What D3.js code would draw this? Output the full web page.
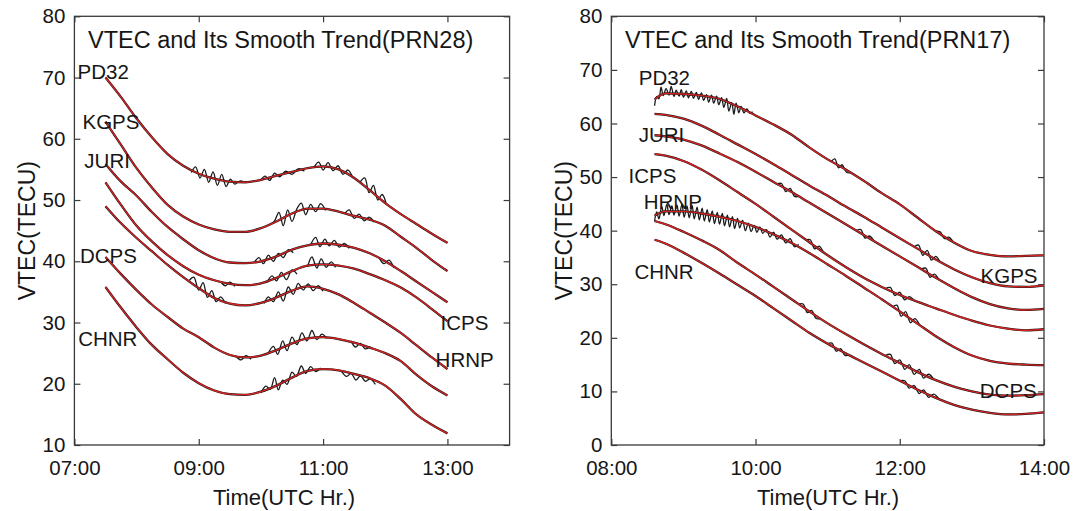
<!DOCTYPE html>
<html><head><meta charset="utf-8">
<script src="https://cdn.jsdelivr.net/npm/d3@7"></script>
<style>
body{margin:0;background:#fff}
svg{display:block}
text{font-family:"Liberation Sans",Arial,sans-serif;fill:#161616}
</style>
</head><body>
<svg id="c" width="1085" height="511"></svg>
<script>
// ---------------- LEFT PANEL (PRN28) ----------------
const leftTimes = [7.5,7.75,8,8.25,8.5,8.75,9,9.25,9.5,9.75,10,10.25,10.5,10.75,11,11.25,11.5,11.75,12,12.25,12.5,12.75,13];
const leftPD32 = [70.0,66.8,63.3,60.2,57.5,55.6,54.3,53.5,53.0,52.9,53.3,54.0,54.6,55.2,55.5,55.0,53.6,51.6,49.5,47.7,46.1,44.5,43.0];
const leftKGPS = [62.8,59.0,55.2,52.0,49.2,47.3,46.0,45.2,44.8,44.8,45.4,46.5,47.8,48.6,48.6,48.1,47.4,46.8,45.8,44.0,42.2,40.2,38.4];
const leftJURI = [55.9,53.0,50.7,48.0,45.6,43.6,41.8,40.5,39.8,39.7,40.0,40.8,41.9,42.6,42.9,42.7,42.2,41.3,40.0,38.4,36.7,35.0,33.3];
const leftICPS = [52.9,49.2,45.8,43.2,41.0,39.2,37.8,36.9,36.3,36.1,36.4,37.3,38.4,39.3,39.5,39.3,38.8,37.9,36.9,35.7,34.1,32.2,30.2];
const leftHRNP = [49.0,46.2,43.8,41.6,39.4,37.4,35.6,34.0,33.1,32.8,33.2,34.1,35.2,35.9,35.5,34.6,33.2,31.6,30.0,28.3,26.3,24.3,22.4];
const leftDCPS = [40.7,37.9,35.3,32.9,30.9,29.0,27.6,25.9,24.7,24.3,24.6,25.5,26.6,27.4,27.6,27.3,26.7,25.9,25.0,23.7,21.5,19.6,18.1];
const leftCHNR = [35.8,32.4,29.2,26.3,24.0,21.8,20.1,18.9,18.3,18.2,18.7,19.7,21.0,22.1,22.4,22.2,21.6,20.9,19.7,17.5,15.0,13.3,11.9];

// raw VTEC (black) where it departs from the trend: [time, value]
const leftPD32Raw = [
 [[8.88,54.5],[8.95,55.4],[9.02,53.6],[9.09,55.0],[9.16,52.9],[9.23,54.6],[9.3,52.4],[9.37,54.2],[9.44,52.2],[9.51,53.4],[9.58,52.6],[9.66,53.1],[9.74,52.9]],
 [[10.0,53.3],[10.07,53.9],[10.14,53.2],[10.22,54.4],[10.3,53.8],[10.4,54.7],[10.5,54.2],[10.6,55.1],[10.7,54.7]],
 [[10.85,55.3],[10.93,56.2],[11.0,54.9],[11.08,56.1],[11.16,54.8],[11.24,55.6],[11.32,54.2],[11.4,54.9],[11.48,53.6]],
 [[11.6,53.0],[11.67,53.6],[11.74,51.2],[11.81,52.4],[11.88,50.0],[11.95,50.9],[12.02,49.2]]];
const leftKGPSRaw = [
 [[10.15,46.0],[10.22,46.6],[10.29,48.0],[10.36,45.8],[10.43,48.4],[10.5,46.5],[10.58,48.6],[10.65,49.5],[10.72,47.6],[10.8,49.3],[10.88,48.1],[10.96,49.4],[11.04,48.3]],
 [[11.35,47.8],[11.42,48.4],[11.5,47.0],[11.58,47.7],[11.66,46.6],[11.74,47.2],[11.82,46.4]]];
const leftJURIRaw = [
 [[9.9,39.9],[9.97,40.6],[10.04,39.6],[10.12,41.0],[10.2,40.0],[10.28,41.3],[10.36,40.6],[10.44,41.9],[10.52,41.4]],
 [[10.8,42.7],[10.88,43.9],[10.95,42.4],[11.03,43.6],[11.1,42.5],[11.18,43.4],[11.26,42.3],[11.34,42.9],[11.42,42.1]],
 [[11.9,40.6],[11.98,39.6],[12.06,40.2],[12.14,38.9]]];
const leftICPSRaw = [
 [[9.35,36.7],[9.43,36.0],[9.5,36.6],[9.58,35.9]],
 [[10.1,36.6],[10.18,37.6],[10.25,36.8],[10.33,38.2],[10.41,37.0],[10.5,38.6],[10.58,37.9]],
 [[10.75,39.1],[10.82,40.7],[10.9,38.9],[10.97,40.4],[11.05,39.0],[11.13,39.9],[11.2,39.0]]];
const leftHRNPRaw = [
 [[8.85,36.9],[8.92,37.4],[9.0,35.3],[9.07,36.5],[9.14,34.1],[9.21,35.2],[9.28,33.4],[9.35,34.2],[9.43,33.1]],
 [[10.05,33.1],[10.12,34.2],[10.2,33.4],[10.28,35.0],[10.36,33.5],[10.44,35.8],[10.52,34.6],[10.6,36.4],[10.68,35.3],[10.76,36.3],[10.84,35.2],[10.92,36.0],[11.0,35.1]]];
const leftDCPSRaw = [
 [[9.6,24.5],[9.68,23.9],[9.76,24.6],[9.84,24.0]],
 [[10.12,25.0],[10.2,26.1],[10.27,24.8],[10.35,27.0],[10.42,25.4],[10.5,27.6],[10.58,26.4],[10.66,28.3],[10.74,27.0],[10.82,28.7],[10.9,27.2],[10.98,28.1],[11.06,27.4]],
 [[11.45,27.0],[11.52,26.0],[11.6,26.6],[11.68,25.7],[11.76,26.1]]];
const leftCHNRRaw = [
 [[10.0,18.5],[10.08,19.6],[10.15,19.1],[10.22,21.0],[10.28,19.0],[10.35,20.6],[10.42,19.9],[10.5,21.9],[10.57,21.2],[10.65,22.9],[10.72,21.7],[10.8,22.8],[10.88,22.0],[10.96,22.6]],
 [[11.3,22.0],[11.38,21.2],[11.45,21.7],[11.53,20.6],[11.6,21.3],[11.68,20.4],[11.76,20.8],[11.84,19.9]]];

const leftXTicks = [7,9,11,13];
const leftYTicks = [10,20,30,40,50,60,70,80];
const leftLabelNames = ["PD32","KGPS","JURI","DCPS","CHNR","ICPS","HRNP"];
const leftLabelT = [7.05,7.13,7.16,7.09,7.06,12.89,12.81];
const leftLabelV = [71.06,62.9,56.4,41.0,27.4,29.95,23.98];

// ---------------- RIGHT PANEL (PRN17) ----------------
const rightTimes = [8.6,8.75,9,9.25,9.5,9.75,10,10.25,10.5,10.75,11,11.25,11.5,11.75,12,12.25,12.5,12.75,13,13.25,13.5,13.75,14];
const rightPD32 = [64.5,65.6,65.5,65.2,64.6,63.2,61.5,59.8,57.9,55.5,53.3,51.4,49.3,47.0,44.9,42.4,39.9,37.8,36.2,35.5,35.2,35.3,35.4];
const rightKGPS = [61.8,61.6,60.9,59.6,57.9,56.1,54.3,52.4,50.4,48.4,46.5,44.5,42.6,40.6,38.6,36.6,34.6,32.8,31.3,30.2,29.6,29.5,29.8];
const rightJURI = [57.8,57.6,57.0,55.9,54.4,52.8,51.0,49.1,47.2,45.2,43.2,41.2,39.2,37.2,35.2,33.2,31.2,29.3,27.6,26.3,25.5,25.2,25.4];
const rightICPS = [54.3,54.0,53.0,51.4,49.4,47.2,45.0,42.6,40.2,37.8,35.4,33.2,31.2,29.5,28.0,26.7,25.5,24.3,23.2,22.3,21.7,21.4,21.6];
const rightHRNP = [42.8,43.6,43.6,43.2,42.6,41.8,40.7,39.3,37.7,35.8,33.7,31.6,29.4,27.2,24.9,22.6,20.3,18.3,16.7,15.7,15.2,15.0,14.9];
const rightDCPS = [41.8,41.2,39.8,38.2,36.4,34.0,31.8,29.5,27.2,24.9,22.7,20.7,18.8,17.0,15.3,13.6,12.1,10.9,10.0,9.4,9.2,9.3,9.5];
const rightCHNR = [38.3,37.6,35.9,34.0,32.0,29.9,27.8,25.5,23.2,20.9,18.9,17.1,15.4,13.7,12.0,10.3,8.8,7.5,6.6,6.0,5.7,5.8,6.1];

const rightPD32Raw = [
 [[8.6,63.3],[8.63,65.0],[8.66,64.6],[8.69,66.8],[8.72,65.2],[8.76,66.5],[8.8,65.3],[8.83,66.9],[8.87,65.0],[8.9,66.2],[8.94,65.1],[8.97,66.3],[9.0,64.9],[9.04,66.1],[9.07,64.8],[9.11,66.0],[9.14,64.7],[9.18,65.8],[9.21,64.5],[9.25,65.7],[9.28,64.3],[9.32,65.4],[9.35,64.0],[9.39,65.3],[9.42,63.8],[9.46,65.1],[9.49,63.5],[9.53,64.8],[9.56,63.0],[9.6,64.7],[9.63,62.3],[9.67,63.9],[9.7,61.7],[9.73,63.8],[9.77,62.0],[9.8,63.2],[9.84,62.0],[9.88,62.7],[9.92,61.9],[9.96,62.2]],
 [[11.05,52.9],[11.1,53.4],[11.15,51.7],[11.2,52.3],[11.26,50.9],[11.32,50.8]],
 [[12.5,39.9],[12.56,39.8],[12.62,38.5],[12.68,38.8],[12.74,37.9]]];
const rightKGPSRaw = [
 [[12.2,37.0],[12.26,37.3],[12.32,35.4],[12.38,36.3],[12.44,34.5],[12.5,35.2],[12.56,34.1]]];
const rightJURIRaw = [
 [[10.3,48.7],[10.36,48.8],[10.42,47.3],[10.48,47.9],[10.54,46.4],[10.6,46.4]],
 [[11.4,40.0],[11.46,40.2],[11.52,38.6],[11.58,39.0],[11.64,38.1]],
 [[12.3,32.8],[12.36,33.0],[12.42,31.3],[12.48,31.9],[12.54,30.9]]];
const rightICPSRaw = [
 [[10.7,38.3],[10.76,38.3],[10.82,36.6],[10.88,37.1],[10.94,36.0]],
 [[11.8,29.2],[11.87,29.4],[11.93,27.9],[12.0,28.5],[12.07,27.1],[12.13,27.7],[12.2,27.0]]];
const rightHRNPRaw = [
 [[8.6,41.8],[8.63,43.5],[8.66,42.2],[8.7,44.5],[8.73,42.8],[8.77,44.9],[8.8,43.0],[8.84,44.6],[8.87,42.9],[8.91,44.8],[8.94,42.7],[8.98,44.9],[9.01,42.5],[9.05,44.6],[9.08,42.4],[9.12,44.7],[9.15,42.2],[9.19,44.4],[9.22,42.0],[9.26,44.2],[9.29,41.8],[9.33,43.9],[9.36,41.6],[9.4,43.7],[9.43,41.3],[9.47,43.4],[9.5,41.2],[9.54,43.2],[9.57,40.9],[9.61,42.9],[9.64,40.7],[9.68,42.6],[9.71,40.4],[9.75,42.3],[9.78,40.5],[9.82,41.9],[9.86,40.0],[9.9,41.4],[9.94,39.8],[9.98,41.0],[10.02,39.7],[10.06,40.7],[10.1,39.5],[10.15,40.2],[10.2,38.8],[10.25,39.7],[10.3,38.4],[10.36,39.2],[10.42,37.7],[10.48,38.5],[10.54,37.0],[10.6,37.4]],
 [[11.9,25.8],[11.96,26.1],[12.02,24.0],[12.08,24.9],[12.15,22.8],[12.21,23.6],[12.28,22.3]]];
const rightDCPSRaw = [
 [[10.6,26.3],[10.66,26.3],[10.72,24.7],[10.78,25.1],[10.84,23.6],[10.9,23.6]],
 [[11.8,16.7],[11.87,16.9],[11.93,15.2],[12.0,15.9],[12.07,14.1],[12.13,15.0],[12.2,13.2],[12.27,14.1],[12.33,12.5],[12.4,13.2],[12.47,12.3]]];
const rightCHNRRaw = [
 [[11.0,18.9],[11.06,19.0],[11.12,17.5],[11.18,18.0],[11.24,16.7],[11.3,16.8]],
 [[12.0,12.0],[12.07,12.0],[12.13,10.6],[12.2,11.1],[12.27,9.6],[12.33,10.3],[12.4,8.9],[12.47,9.5],[12.55,8.5]]];

const rightXTicks = [8,10,12,14];
const rightYTicks = [0,10,20,30,40,50,60,70,80];
const rightLabelNames = ["PD32","JURI","ICPS","HRNP","CHNR","KGPS","DCPS"];
const rightLabelT = [8.38,8.38,8.24,8.45,8.32,13.12,13.11];
const rightLabelV = [68.66,58.0,50.2,45.5,32.3,31.7,10.26];

// ---------------- DRAWING ----------------
const svg = d3.select("#c");
const fmtHour = h => String(h).padStart(2,"0") + ":00";

function drawPanel(o) {
  const g = svg.append("g");
  const x = d3.scaleLinear().domain(o.xd).range([o.left, o.right]);
  const y = d3.scaleLinear().domain(o.yd).range([o.bottom, o.top]);
  const axisColor = "#3a3a3a";

  const styleAxis = sel => {
    sel.select(".domain").remove();
    sel.selectAll(".tick line").attr("stroke", axisColor).attr("stroke-width", 1.2);
    sel.selectAll("text").style("font-size", "20.5px").style("font-family", '"Liberation Sans",Arial,sans-serif').attr("fill", "#262626");
  };
  g.append("g").attr("transform", `translate(0,${o.bottom})`)
    .call(d3.axisBottom(x).tickValues(o.xt).tickFormat(fmtHour).tickSizeInner(-6).tickSizeOuter(0).tickPadding(15))
    .call(styleAxis);
  g.append("g").attr("transform", `translate(0,${o.top})`)
    .call(d3.axisTop(x).tickValues(o.xt).tickFormat("").tickSizeInner(-6).tickSizeOuter(0))
    .call(styleAxis);
  g.append("g").attr("transform", `translate(${o.left},0)`)
    .call(d3.axisLeft(y).tickValues(o.yt).tickFormat(d3.format("d")).tickSizeInner(-6).tickSizeOuter(0).tickPadding(9))
    .call(styleAxis);
  g.append("g").attr("transform", `translate(${o.right},0)`)
    .call(d3.axisRight(y).tickValues(o.yt).tickFormat("").tickSizeInner(-6).tickSizeOuter(0))
    .call(styleAxis);

  g.append("rect").attr("x", o.left).attr("y", o.top)
    .attr("width", o.right - o.left).attr("height", o.bottom - o.top)
    .attr("fill", "none").attr("stroke", axisColor).attr("stroke-width", 1.3);

  const lineSmooth = d3.line().x(d => x(d[0])).y(d => y(d[1])).curve(d3.curveMonotoneX);
  const lineRaw = d3.line().x(d => x(d[0])).y(d => y(d[1])).curve(d3.curveCatmullRom.alpha(0.5));

  const clip = "clip" + o.id;
  g.append("clipPath").attr("id", clip).append("rect")
    .attr("x", o.left).attr("y", o.top).attr("width", o.right - o.left).attr("height", o.bottom - o.top);
  const plot = g.append("g").attr("clip-path", `url(#${clip})`);

  o.series.forEach(s => {
    const pts = o.times.map((t, i) => [t, s.trend[i]]);
    plot.append("path").attr("d", lineSmooth(pts)).attr("fill", "none")
      .attr("stroke", "#1a1a1a").attr("stroke-width", 2.3);
    s.raw.forEach(seg => {
      plot.append("path").attr("d", lineRaw(seg)).attr("fill", "none")
        .attr("stroke", "#1a1a1a").attr("stroke-width", 1.3).attr("stroke-linejoin", "round");
    });
  });
  o.series.forEach(s => {
    const pts = o.times.map((t, i) => [t, s.trend[i]]);
    plot.append("path").attr("d", lineSmooth(pts)).attr("fill", "none")
      .attr("stroke", "#d42222").attr("stroke-width", 1.4);
  });

  o.labels.names.forEach((n, i) => {
    g.append("text").attr("x", x(o.labels.t[i])).attr("y", y(o.labels.v[i]))
      .attr("dominant-baseline", "central").style("font-size", "20.5px").text(n);
  });

  g.append("text").attr("x", o.titleX).attr("y", 40).attr("dominant-baseline", "central")
    .style("font-size", "23.5px").text(o.title);

  g.append("text").attr("x", o.xLabelX).attr("y", 497)
    .attr("text-anchor", "middle").attr("dominant-baseline", "central")
    .style("font-size", "22px").text("Time(UTC Hr.)");
  g.append("text").attr("transform", `translate(${o.yLabelX},${(o.top + o.bottom) / 2}) rotate(-90)`)
    .attr("text-anchor", "middle").attr("dominant-baseline", "central")
    .style("font-size", "23px").text("VTEC(TECU)");
}

drawPanel({
  id: "L", left: 74.4, right: 509.6, top: 16.3, bottom: 445,
  xd: [7, 14], yd: [10, 80], xt: leftXTicks, yt: leftYTicks,
  times: leftTimes,
  series: [
    {trend: leftPD32, raw: leftPD32Raw}, {trend: leftKGPS, raw: leftKGPSRaw},
    {trend: leftJURI, raw: leftJURIRaw}, {trend: leftICPS, raw: leftICPSRaw},
    {trend: leftHRNP, raw: leftHRNPRaw}, {trend: leftDCPS, raw: leftDCPSRaw},
    {trend: leftCHNR, raw: leftCHNRRaw}],
  labels: {names: leftLabelNames, t: leftLabelT, v: leftLabelV},
  title: "VTEC and Its Smooth Trend(PRN28)", titleX: 88, xLabelX: 284, yLabelX: 27
});
drawPanel({
  id: "R", left: 611.3, right: 1044, top: 16.3, bottom: 445,
  xd: [8, 14], yd: [0, 80], xt: rightXTicks, yt: rightYTicks,
  times: rightTimes,
  series: [
    {trend: rightPD32, raw: rightPD32Raw}, {trend: rightKGPS, raw: rightKGPSRaw},
    {trend: rightJURI, raw: rightJURIRaw}, {trend: rightICPS, raw: rightICPSRaw},
    {trend: rightHRNP, raw: rightHRNPRaw}, {trend: rightDCPS, raw: rightDCPSRaw},
    {trend: rightCHNR, raw: rightCHNRRaw}],
  labels: {names: rightLabelNames, t: rightLabelT, v: rightLabelV},
  title: "VTEC and Its Smooth Trend(PRN17)", titleX: 625, xLabelX: 828, yLabelX: 564
});
</script>
</body></html>
